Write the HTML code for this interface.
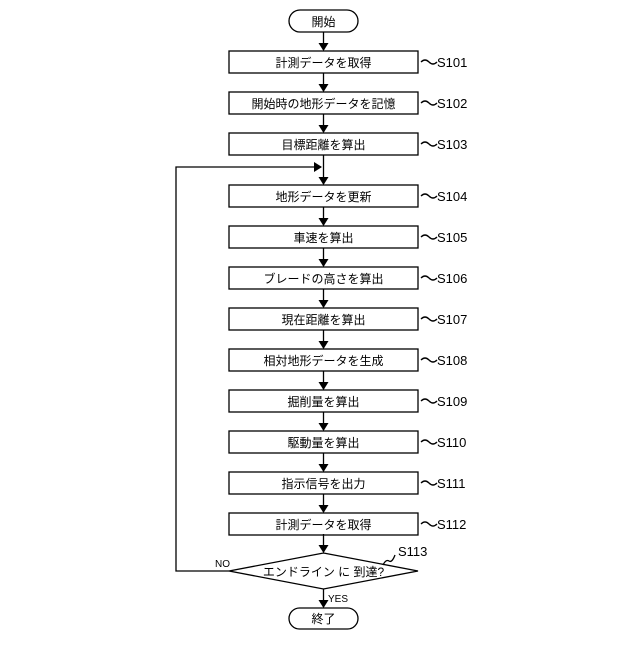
<!DOCTYPE html>
<html><head><meta charset="utf-8"><style>
body{margin:0;background:#fff}
svg text{font-family:"Liberation Sans","Noto Sans CJK JP",sans-serif;fill:#000}
</style></head><body>
<svg width="640" height="640" viewBox="0 0 640 640" xmlns="http://www.w3.org/2000/svg">
<defs><marker id="a" markerWidth="8" markerHeight="10" refX="7" refY="5" orient="auto" markerUnits="userSpaceOnUse"><path d="M0,0 L8,5 L0,10 z" fill="#000"/></marker></defs>
<g stroke="#000" stroke-width="1.3" fill="none">
<rect x="289" y="10" width="69" height="22" rx="11"/>
<rect x="289" y="608" width="69" height="21" rx="10.5"/>
<line x1="323.5" y1="32" x2="323.5" y2="50" marker-end="url(#a)"/>
<line x1="323.5" y1="73" x2="323.5" y2="91" marker-end="url(#a)"/>
<line x1="323.5" y1="114" x2="323.5" y2="132" marker-end="url(#a)"/>
<line x1="323.5" y1="155" x2="323.5" y2="184" marker-end="url(#a)"/>
<polyline points="229,571 176,571 176,167 321,167" marker-end="url(#a)"/>
<line x1="323.5" y1="534" x2="323.5" y2="552" marker-end="url(#a)"/>
<line x1="323.5" y1="589" x2="323.5" y2="607" marker-end="url(#a)"/>
<polygon points="323.5,553 418,571 323.5,589 229,571"/>
<path d="M383,565 q3,-6 6,-4 t6,-6"/>
</g>
<g id="boxes" stroke="#000" stroke-width="1.3" fill="none"></g>
<text x="323.5" y="26" font-size="12" text-anchor="middle">開始</text>
<text x="323.5" y="623" font-size="12" text-anchor="middle">終了</text>
<text x="323.5" y="576" font-size="12" text-anchor="middle">エンドライン に 到達?</text>
<text x="215" y="567" font-size="10">NO</text>
<text x="328" y="602" font-size="10">YES</text>
<text x="398" y="556" font-size="13">S113</text>
<g stroke="#000" stroke-width="1.3" fill="none">
<rect x="229" y="51" width="189" height="22"/><rect x="229" y="92" width="189" height="22"/><rect x="229" y="133" width="189" height="22"/>
<rect x="229" y="185" width="189" height="22"/><rect x="229" y="226" width="189" height="22"/><rect x="229" y="267" width="189" height="22"/>
<rect x="229" y="308" width="189" height="22"/><rect x="229" y="349" width="189" height="22"/><rect x="229" y="390" width="189" height="22"/>
<rect x="229" y="431" width="189" height="22"/><rect x="229" y="472" width="189" height="22"/><rect x="229" y="513" width="189" height="22"/>
<line x1="323.5" y1="207" x2="323.5" y2="225" marker-end="url(#a)"/><line x1="323.5" y1="248" x2="323.5" y2="266" marker-end="url(#a)"/>
<line x1="323.5" y1="289" x2="323.5" y2="307" marker-end="url(#a)"/><line x1="323.5" y1="330" x2="323.5" y2="348" marker-end="url(#a)"/>
<line x1="323.5" y1="371" x2="323.5" y2="389" marker-end="url(#a)"/><line x1="323.5" y1="412" x2="323.5" y2="430" marker-end="url(#a)"/>
<line x1="323.5" y1="453" x2="323.5" y2="471" marker-end="url(#a)"/><line x1="323.5" y1="494" x2="323.5" y2="512" marker-end="url(#a)"/>
<path d="M421,62 q4,-4 8,0 t8,0"/><path d="M421,103 q4,-4 8,0 t8,0"/><path d="M421,144 q4,-4 8,0 t8,0"/>
<path d="M421,196 q4,-4 8,0 t8,0"/><path d="M421,237 q4,-4 8,0 t8,0"/><path d="M421,278 q4,-4 8,0 t8,0"/>
<path d="M421,319 q4,-4 8,0 t8,0"/><path d="M421,360 q4,-4 8,0 t8,0"/><path d="M421,401 q4,-4 8,0 t8,0"/>
<path d="M421,442 q4,-4 8,0 t8,0"/><path d="M421,483 q4,-4 8,0 t8,0"/><path d="M421,524 q4,-4 8,0 t8,0"/>
</g>
<g font-size="12" text-anchor="middle">
<text x="323.5" y="67">計測データを取得</text><text x="323.5" y="108">開始時の地形データを記憶</text><text x="323.5" y="149">目標距離を算出</text>
<text x="323.5" y="201">地形データを更新</text><text x="323.5" y="242">車速を算出</text><text x="323.5" y="283">ブレードの高さを算出</text>
<text x="323.5" y="324">現在距離を算出</text><text x="323.5" y="365">相対地形データを生成</text><text x="323.5" y="406">掘削量を算出</text>
<text x="323.5" y="447">駆動量を算出</text><text x="323.5" y="488">指示信号を出力</text><text x="323.5" y="529">計測データを取得</text>
</g>
<g font-size="13">
<text x="437" y="67">S101</text><text x="437" y="108">S102</text><text x="437" y="149">S103</text>
<text x="437" y="201">S104</text><text x="437" y="242">S105</text><text x="437" y="283">S106</text>
<text x="437" y="324">S107</text><text x="437" y="365">S108</text><text x="437" y="406">S109</text>
<text x="437" y="447">S110</text><text x="437" y="488">S111</text><text x="437" y="529">S112</text>
</g>
</svg>
</body></html>
